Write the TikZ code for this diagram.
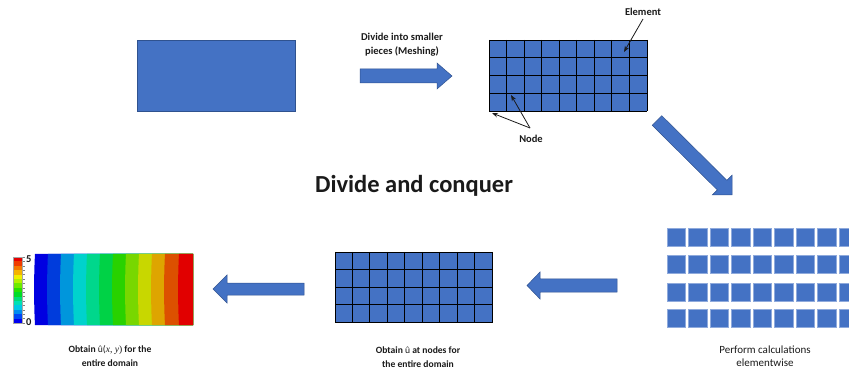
\documentclass[tikz,border=0pt]{standalone}
\usepackage{fontspec}
\setmainfont{Carlito}
\newfontfamily\serifit{Liberation Serif}
\usetikzlibrary{arrows.meta}
\definecolor{obl}{HTML}{4472C4}
\definecolor{obd}{HTML}{2F528F}
\definecolor{txt}{HTML}{1A1A1A}
\begin{document}
\begin{tikzpicture}[x=1pt,y=-1pt,
  blk/.style={fill=obl, draw=obd, line width=0.6pt, inner sep=0pt},
  arrowshape/.style={fill=obl, draw=obd, line width=0.5pt},
  gridline/.style={black, line width=0.9pt},
  lbl/.style={font=\fontsize{10.5}{14}\selectfont\bfseries, align=center, text=txt, inner sep=0pt},
  lblo/.style={font=\fontsize{9.6}{14}\selectfont\bfseries, align=center, text=txt, inner sep=0pt},
  lblr/.style={font=\fontsize{11}{13.5}\selectfont, align=center, text=txt, inner sep=0pt},
  ptr/.style={-{Stealth[length=6pt,width=4.5pt]}, line width=0.8pt, txt},
  sq/.style={fill=obl, draw=obl!60!white, line width=0.6pt}
]
\useasboundingbox (0,0) rectangle (849,374);

% domain
\node[blk, minimum width=158pt, minimum height=71pt, anchor=north west] (dom) at (137,40) {};

% meshing arrow
\fill[arrowshape] (360,69) -- (437,69) -- (437,63) -- (452,76) -- (437,89) -- (437,83) -- (360,83) -- cycle;
\node[lbl] (meshtxt) at (402,45) {Divide into smaller\\pieces (Meshing)};

% top mesh
\node[inner sep=0pt, minimum width=158pt, minimum height=71pt, anchor=north west, fill=obl] (mesh) at (489,40) {};
\foreach \i in {0,...,9} \draw[gridline] (489+\i*17.556,40) -- (489+\i*17.556,111);
\foreach \j in {0,...,4} \draw[gridline] (489,40+\j*17.75) -- (647,40+\j*17.75);

\node[lbl] (elem) at (643,12) {Element};
\coordinate (elemtgt) at (624,52);
\draw[ptr] (643,19) -- (elemtgt);

\node[lbl] (node) at (531,139) {Node};
\coordinate (nodeA) at (492,113);
\coordinate (nodeB) at (511,95);
\draw[ptr] (530,128) -- (nodeA);
\draw[ptr] (530,128) -- (nodeB);

% diagonal arrow
\fill[arrowshape] (661.8,115.7) -- (726.9,180.3) -- (732.0,175.2) -- (732,195) -- (712.2,195.0) -- (717.3,189.9) -- (652.2,125.3) -- cycle;

% title
\node[font=\fontsize{24.5}{28}\selectfont\bfseries, text=txt, inner sep=0pt] (title) at (414,186) {Divide and conquer};

% elementwise squares
\foreach \r/\y in {0/228,1/255,2/283,3/309}
  \foreach \c in {0,...,8}
    \fill[sq] (667+\c*21.5,\y) rectangle ++(18.5,18);
\node[lblr] (perf) at (765,356) {Perform calculations\\elementwise};

% arrow to bottom mesh
\fill[arrowshape] (617,279) -- (540,279) -- (540,272) -- (527,285.5) -- (540,299) -- (540,292) -- (617,292) -- cycle;

% bottom mesh
\node[inner sep=0pt, minimum width=157pt, minimum height=70pt, anchor=north west, fill=obl] (mesh2) at (335,252) {};
\foreach \i in {0,...,9} \draw[gridline] (335+\i*17.444,252) -- (335+\i*17.444,323);
\foreach \j in {0,...,4} \draw[gridline] (335,252+\j*17.5) -- (493,252+\j*17.5);
\node[lblo] (obtnodes) at (418,357) {Obtain {\mdseries û} at nodes for\\the entire domain};

% arrow to contour
\fill[arrowshape] (304,283) -- (227,283) -- (227,275) -- (213,289) -- (227,303) -- (227,295) -- (304,295) -- cycle;

% contour plot
\foreach \x/\col in {35/{0,0,225},48/{0,60,220},61/{0,150,220},74/{0,210,205},87/{0,215,140},100/{0,210,70},113/{40,210,0},126/{120,215,0},139/{200,215,0},152/{222,165,0},165/{220,80,0},179/{225,0,0}}{
  \definecolor{bandc}{RGB}{\col}
  \fill[bandc] (\x,254) .. controls (\x-1.2,275) and (\x-1.2,304) .. (\x,325) -- (193,325) -- (193,254) -- cycle;
}
\node[inner sep=0pt, minimum width=158pt, minimum height=71pt, anchor=north west] (contour) at (35,254) {};

% colorbar
\foreach \k/\col in {0/{230,0,0},1/{240,60,0},2/{245,120,0},3/{245,180,0},4/{240,240,0},5/{180,240,0},6/{110,235,0},7/{40,225,0},8/{0,220,40},9/{0,220,120},10/{0,225,180},11/{0,200,230},12/{0,140,240},13/{0,70,245},14/{0,0,240}}{
  \definecolor{cbc}{RGB}{\col}
  \fill[cbc] (13,257+\k*4.4) rectangle (22,257+\k*4.4+4.4);
}
\foreach \k in {0,...,15} \draw[gray, line width=0.4pt] (22,257+\k*4.4) -- (25,257+\k*4.4);
\draw[gray!70, line width=0.4pt] (13,257) rectangle (22,323);
\node[lbl, anchor=west] (five) at (26,259) {5};
\node[lbl, anchor=west] (zero) at (26,322) {0};
\node[lblo] (obtu) at (110,356) {Obtain {\mdseries û(\serifit\itshape x\upshape, \itshape y\upshape)} for the\\entire domain};
\end{tikzpicture}
\end{document}
